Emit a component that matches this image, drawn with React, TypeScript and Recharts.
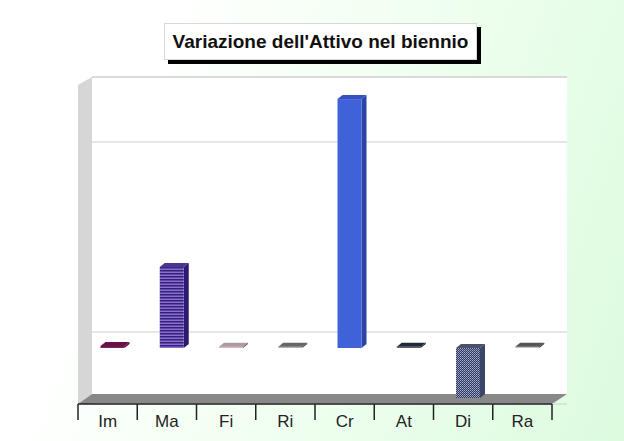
import { BarChart, Bar, XAxis, YAxis, CartesianGrid } from 'recharts'

const categories = ['Im', 'Ma', 'Fi', 'Ri', 'Cr', 'At', 'Di', 'Ra']
const values = [10, 426, 6, 6, 1310, 6, -263, 6]
const fills = ['url(#pIm)', 'url(#pMa)', 'url(#pFi)', 'url(#pRi)', '#3f62d8', 'url(#pAt)', 'url(#pDi)', 'url(#pRa)']
const sideFills = ['#5a1040', '#2c1a6e', '#6e5560', '#444444', '#2a45a8', '#1c2430', '#3a4668', '#333333']
const topFills = ['#6a1048', '#4a3590', '#b09aa0', '#666666', '#3552c0', '#222a38', '#4a5168', '#555555']
const gridTicks = [0, 1000]

const data = categories.map((name, i) => ({ name, value: values[i] }))

const bandWidth = 474 / 8

function Bar3D(props: any) {
  const { x, y, width, height, index } = props
  const top = Math.min(y, y + height) + 16
  const h = Math.abs(height)
  const left = x + 4.5
  const right = left + width
  const dx = 5
  const dy = -4
  return (
    <g>
      <polygon
        points={`${left},${top} ${left + dx},${top + dy} ${right + dx},${top + dy} ${right},${top}`}
        fill={topFills[index]}
      />
      <polygon
        points={`${right},${top} ${right + dx},${top + dy} ${right + dx},${top + h + dy} ${right},${top + h}`}
        fill={sideFills[index]}
      />
      <rect x={left} y={top} width={width} height={h} fill={fills[index]} />
    </g>
  )
}

function CategoryTick(props: any) {
  const { x, y, payload, index } = props
  const last = index === categories.length - 1
  const axisY = y - 8
  const l = x - bandWidth / 2
  const r = x + bandWidth / 2
  return (
    <g>
      <line x1={l} x2={r} y1={axisY} y2={axisY} stroke="#222" strokeWidth={1.5} />
      <line x1={l} x2={l} y1={axisY} y2={axisY + 16} stroke="#222" strokeWidth={1.5} />
      {last && <line x1={r} x2={r} y1={axisY} y2={axisY + 16} stroke="#222" strokeWidth={1.5} />}
      <text x={x} y={axisY + 23} textAnchor="middle" fontSize={17} fontFamily="Liberation Sans" fill="#222">
        {payload.value}
      </text>
    </g>
  )
}

function Stripes({ id, bg, fg, size = 4 }: { id: string; bg: string; fg: string; size?: number }) {
  return (
    <pattern id={id} width={size} height={size} patternUnits="userSpaceOnUse">
      <rect width={size} height={size} fill={bg} />
      <rect width={size} height={size / 2} fill={fg} />
    </pattern>
  )
}

export default function App() {
  return (
    <div
      style={{
        position: 'absolute',
        left: 0,
        top: 0,
        width: 624,
        height: 441,
        overflow: 'hidden',
        background: 'linear-gradient(110deg, #ffffff 0%, #ffffff 22%, #f0fff0 55%, #dcfbdf 100%)',
      }}
    >
      <svg width={624} height={441} style={{ position: 'absolute', left: 0, top: 0 }}>
        <polygon points="92,77 567,77 567,394 92,394" fill="#ffffff" />
        <line x1={92} x2={567} y1={77} y2={77} stroke="#cccccc" />
        <polygon points="78,85 92,77 92,394 78,404" fill="#d6d6d6" />
        <polygon points="78,404 92,394 567,394 552,404" fill="#888888" />
      </svg>
      <div
        style={{
          position: 'absolute',
          left: 164,
          top: 23,
          width: 313,
          height: 37,
          boxSizing: 'border-box',
          background: '#ffffff',
          border: '1px solid #d8d8d8',
          boxShadow: '4px 4px 0 #000000',
          fontFamily: 'Liberation Sans',
          fontWeight: 700,
          fontSize: 19,
          lineHeight: '35px',
          textAlign: 'center',
          whiteSpace: 'nowrap',
          color: '#111111',
        }}
      >
        Variazione dell'Attivo nel biennio
      </div>
      <div style={{ position: 'absolute', left: 0, top: 0 }}>
        <BarChart
          width={624}
          height={441}
          data={data}
          margin={{ top: 77, right: 72, bottom: 0, left: 78 }}
          barSize={24}
        >
          <defs>
            <Stripes id="pIm" bg="#8a1a5c" fg="#4a0c34" size={2} />
            <Stripes id="pMa" bg="#8a70cc" fg="#33207c" size={3} />
            <Stripes id="pFi" bg="#d8b4bc" fg="#8a7078" size={2} />
            <Stripes id="pRi" bg="#b0b0b0" fg="#555555" size={2} />
            <Stripes id="pAt" bg="#55606c" fg="#1c2430" size={2} />
            <Stripes id="pRa" bg="#c0c0c0" fg="#444444" size={2} />
            <pattern id="pDi" width={2} height={2} patternUnits="userSpaceOnUse">
              <rect width={2} height={2} fill="#2f3a62" />
              <rect width={1} height={1} fill="#aab0cc" />
              <rect x={1} y={1} width={1} height={1} fill="#8890b0" />
            </pattern>
          </defs>
          <CartesianGrid vertical={false} x={92} width={475} stroke="#cfcfcf" />
          <XAxis
            dataKey="name"
            height={37}
            axisLine={false}
            tickLine={false}
            interval={0}
            tick={<CategoryTick />}
          />
          <YAxis hide type="number" domain={[-379, 1342]} ticks={gridTicks} />
          <Bar dataKey="value" isAnimationActive={false} shape={<Bar3D />} />
        </BarChart>
      </div>
    </div>
  )
}
